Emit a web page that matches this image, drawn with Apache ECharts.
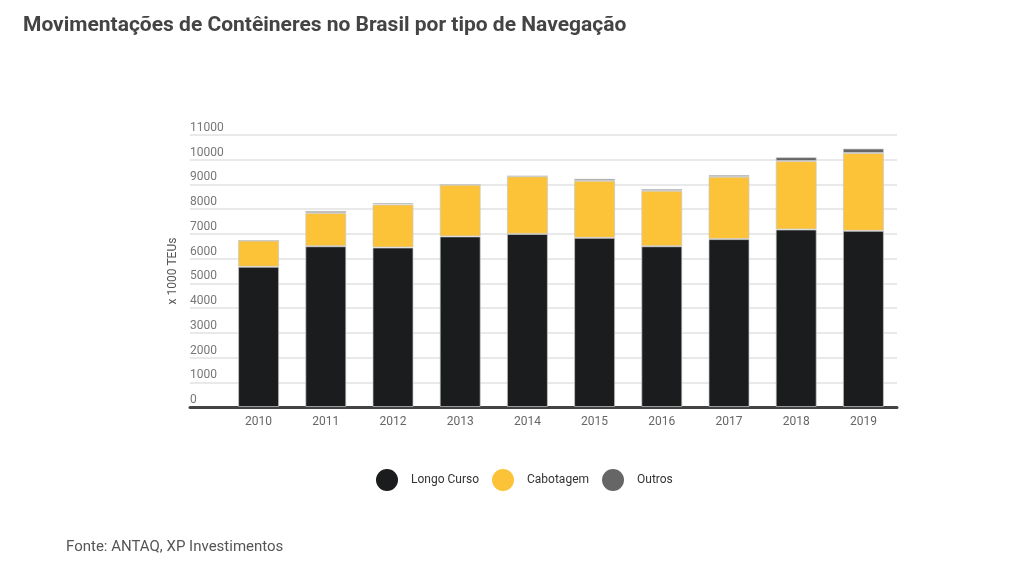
<!DOCTYPE html>
<html>
<head>
<meta charset="utf-8">
<script src="https://cdn.jsdelivr.net/npm/echarts@6/dist/echarts.min.js"></script>
<style>
  html, body { margin: 0; padding: 0; background: #fff; }
  #chart { width: 1027px; height: 565px; }
</style>
</head>
<body>
<div id="chart"></div>
<script>
// anos e valores (x 1000 TEUs)
var anos = ['2010', '2011', '2012', '2013', '2014', '2015', '2016', '2017', '2018', '2019'];
var longoCurso = [5670, 6500, 6450, 6900, 7000, 6840, 6500, 6790, 7180, 7125];
var cabotagem = [1060, 1350, 1740, 2090, 2330, 2310, 2245, 2520, 2765, 3145];
var outros = [0, 80, 60, 10, 10, 80, 70, 70, 160, 180];
var yTicks = { min: 0, max: 11000, interval: 1000 };

var chart = echarts.init(document.getElementById('chart'));

var font = 'Roboto, "Noto Sans", sans-serif';
var barBorder = { borderColor: 'rgba(200,200,200,0.7)', borderWidth: 1 };

var option = {
    backgroundColor: '#fff',
    animation: false,
    textStyle: { fontFamily: font },
    title: [
        {
            text: 'Movimentações de Contêineres no Brasil por tipo de Navegação',
            left: 18, top: 10,
            textStyle: { fontFamily: font, fontSize: 21, fontWeight: 'bold', color: '#444' }
        },
        {
            text: 'Fonte: ANTAQ, XP Investimentos',
            left: 61, top: 535,
            textStyle: { fontFamily: font, fontSize: 15, fontWeight: 'normal', color: '#555' }
        }
    ],
    legend: {
        left: 371, top: 464,
        icon: 'circle',
        itemWidth: 22, itemHeight: 22,
        itemGap: 13,
        itemStyle: { borderWidth: 0 },
        textStyle: { fontFamily: font, fontSize: 12, color: '#333', padding: [0, 0, 0, 8] },
        data: ['Longo Curso', 'Cabotagem', 'Outros']
    },
    grid: [
        { left: 190, right: 130, top: 135, bottom: 158 },   // linhas de grade e eixo
        { left: 225, right: 130, top: 135, bottom: 158 }    // barras
    ],
    xAxis: [
        {
            gridIndex: 0, type: 'value', min: 0, max: 1,
            axisLine: { show: true, lineStyle: { color: '#444', width: 3 } },
            axisTick: { show: false }, axisLabel: { show: false }, splitLine: { show: false }
        },
        {
            gridIndex: 1, type: 'category', data: anos,
            axisLine: { show: false }, axisTick: { show: false },
            axisLabel: { color: '#666', fontSize: 12, margin: 9, fontFamily: font }
        }
    ],
    yAxis: [
        {
            gridIndex: 0, type: 'value',
            min: yTicks.min, max: yTicks.max, interval: yTicks.interval,
            name: 'x 1000 TEUs', nameLocation: 'middle', nameGap: 8, nameRotate: 90,
            nameTextStyle: { color: '#555', fontSize: 12, fontFamily: font },
            axisLine: { show: false }, axisTick: { show: false },
            axisLabel: {
                inside: true, margin: 0, align: 'left', verticalAlign: 'bottom',
                padding: [0, 0, 1, 0],
                color: '#777', fontSize: 12, fontFamily: font,
                formatter: function (v) { return String(v); }
            },
            splitLine: { lineStyle: { color: '#e2e2e2', width: 1.5 } }
        },
        {
            gridIndex: 1, type: 'value',
            min: yTicks.min, max: yTicks.max, interval: yTicks.interval,
            show: false, splitLine: { show: false }
        }
    ],
    series: [
        {
            name: 'Longo Curso', type: 'bar', stack: 'total', xAxisIndex: 1, yAxisIndex: 1,
            barWidth: 41, data: longoCurso,
            itemStyle: Object.assign({ color: '#1b1c1e' }, barBorder)
        },
        {
            name: 'Cabotagem', type: 'bar', stack: 'total', xAxisIndex: 1, yAxisIndex: 1,
            barWidth: 41, data: cabotagem,
            itemStyle: Object.assign({ color: '#fdc338' }, barBorder)
        },
        {
            name: 'Outros', type: 'bar', stack: 'total', xAxisIndex: 1, yAxisIndex: 1,
            barWidth: 41, data: outros,
            itemStyle: Object.assign({ color: '#666666' }, barBorder)
        }
    ]
};

chart.setOption(option);
</script>
</body>
</html>
